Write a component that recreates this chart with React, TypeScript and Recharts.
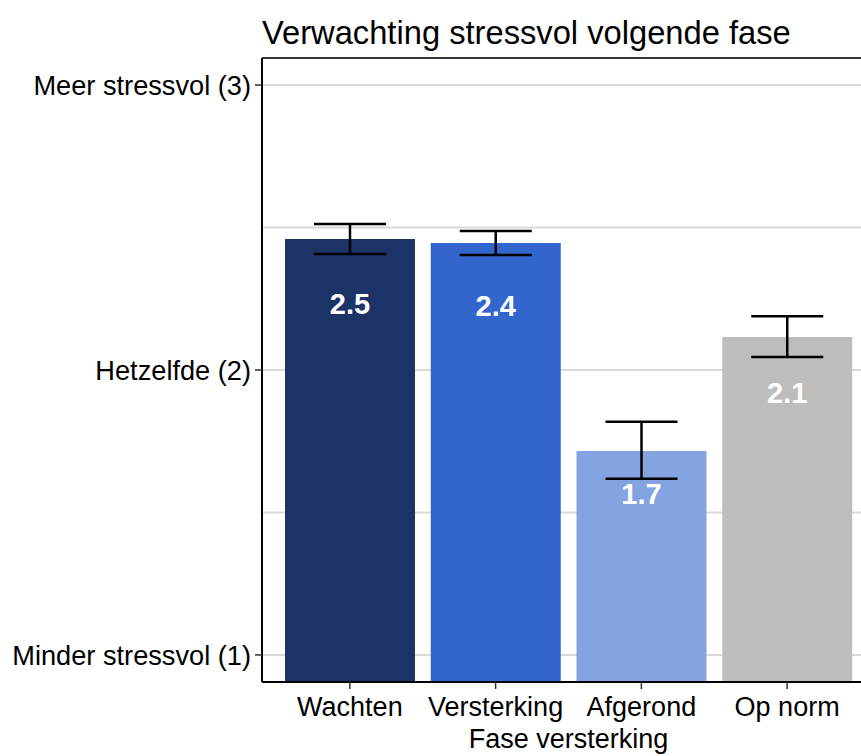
import React from 'react';
import { BarChart, Bar, XAxis, YAxis, CartesianGrid, ErrorBar, Cell, LabelList, Label, ReferenceLine } from 'recharts';

const categories = ['Wachten', 'Versterking', 'Afgerond', 'Op norm'];
const means = [2.46, 2.446, 1.716, 2.116];
const lowerCI = [2.407, 2.404, 1.618, 2.046];
const upperCI = [2.512, 2.488, 1.818, 2.189];
const labelY = [2.232, 2.225, 1.565, 1.919];
const colors = ['#1b3366', '#3366cc', '#84a3e1', '#bdbdbd'];
const yTicks = [1, 2, 3];
const yTickLabels = ['Minder stressvol (1)', 'Hetzelfde (2)', 'Meer stressvol (3)'];
const gridValues = [1, 1.5, 2, 2.5, 3];
const yDomain: [number, number] = [0.905, 3.095];

const data = categories.map((c, i) => ({
  name: c,
  mean: means[i],
  err: [means[i] - lowerCI[i], upperCI[i] - means[i]],
}));

const FONT = '"Liberation Sans", Arial, Helvetica, sans-serif';

const BarValueLabel = (props: any) => {
  const { x, y, width, height, index } = props;
  const m = means[index];
  const ppu = height / (m - yDomain[0]);
  const py = y + (m - labelY[index]) * ppu;
  return (
    <text
      x={x + width / 2}
      y={py}
      textAnchor="middle"
      dominantBaseline="central"
      fill="#ffffff"
      fontWeight="bold"
      fontSize={29}
      fontFamily={FONT}
    >
      {m.toFixed(1)}
    </text>
  );
};

export default function App() {
  return (
    <div style={{ position: 'absolute', left: 0, top: 0, width: 861, height: 756, overflow: 'hidden', background: '#fff', fontFamily: FONT }}>
      <div style={{ position: 'absolute', left: 262, top: 16, fontSize: 32.7, lineHeight: '33px', color: '#000', whiteSpace: 'nowrap' }}>
        Verwachting stressvol volgende fase
      </div>
      <BarChart
        width={900}
        height={756}
        data={data}
        margin={{ top: 58, right: 25, left: 0, bottom: 0 }}
        style={{ position: 'absolute', left: 0, top: 0 }}
      >
        <CartesianGrid vertical={false} horizontalValues={gridValues} stroke="#d9d9d9" strokeWidth={2} />
        <ReferenceLine y={yDomain[1]} stroke="#333333" strokeWidth={2} ifOverflow="visible" />
        <XAxis
          dataKey="name"
          height={74}
          padding={{ left: 15, right: 15 }}
          tickSize={7}
          tickMargin={8}
          axisLine={{ stroke: '#000', strokeWidth: 2 }}
          tickLine={{ stroke: '#333', strokeWidth: 1.5 }}
          tick={{ fill: '#000', fontSize: 27, fontFamily: FONT }}
          interval={0}
        >
          <Label value="Fase versterking" position="insideBottom" offset={8} style={{ fill: '#000', fontSize: 27, fontFamily: FONT }} />
        </XAxis>
        <YAxis
          type="number"
          domain={yDomain}
          ticks={yTicks}
          width={262}
          allowDataOverflow
          tickSize={7}
          tickMargin={4}
          axisLine={{ stroke: '#000', strokeWidth: 2 }}
          tickLine={{ stroke: '#333', strokeWidth: 1.5 }}
          tick={{ fill: '#000', fontSize: 27.2, fontFamily: FONT }}
          tickFormatter={(v: number) => yTickLabels[yTicks.indexOf(v)] ?? ''}
        />
        <Bar dataKey="mean" barSize={130} isAnimationActive={false}>
          {data.map((d, i) => (
            <Cell key={d.name} fill={colors[i]} />
          ))}
          <ErrorBar dataKey="err" width={36} strokeWidth={2.5} stroke="#000" direction="y" />
          <LabelList dataKey="mean" content={BarValueLabel} />
        </Bar>
      </BarChart>
    </div>
  );
}
